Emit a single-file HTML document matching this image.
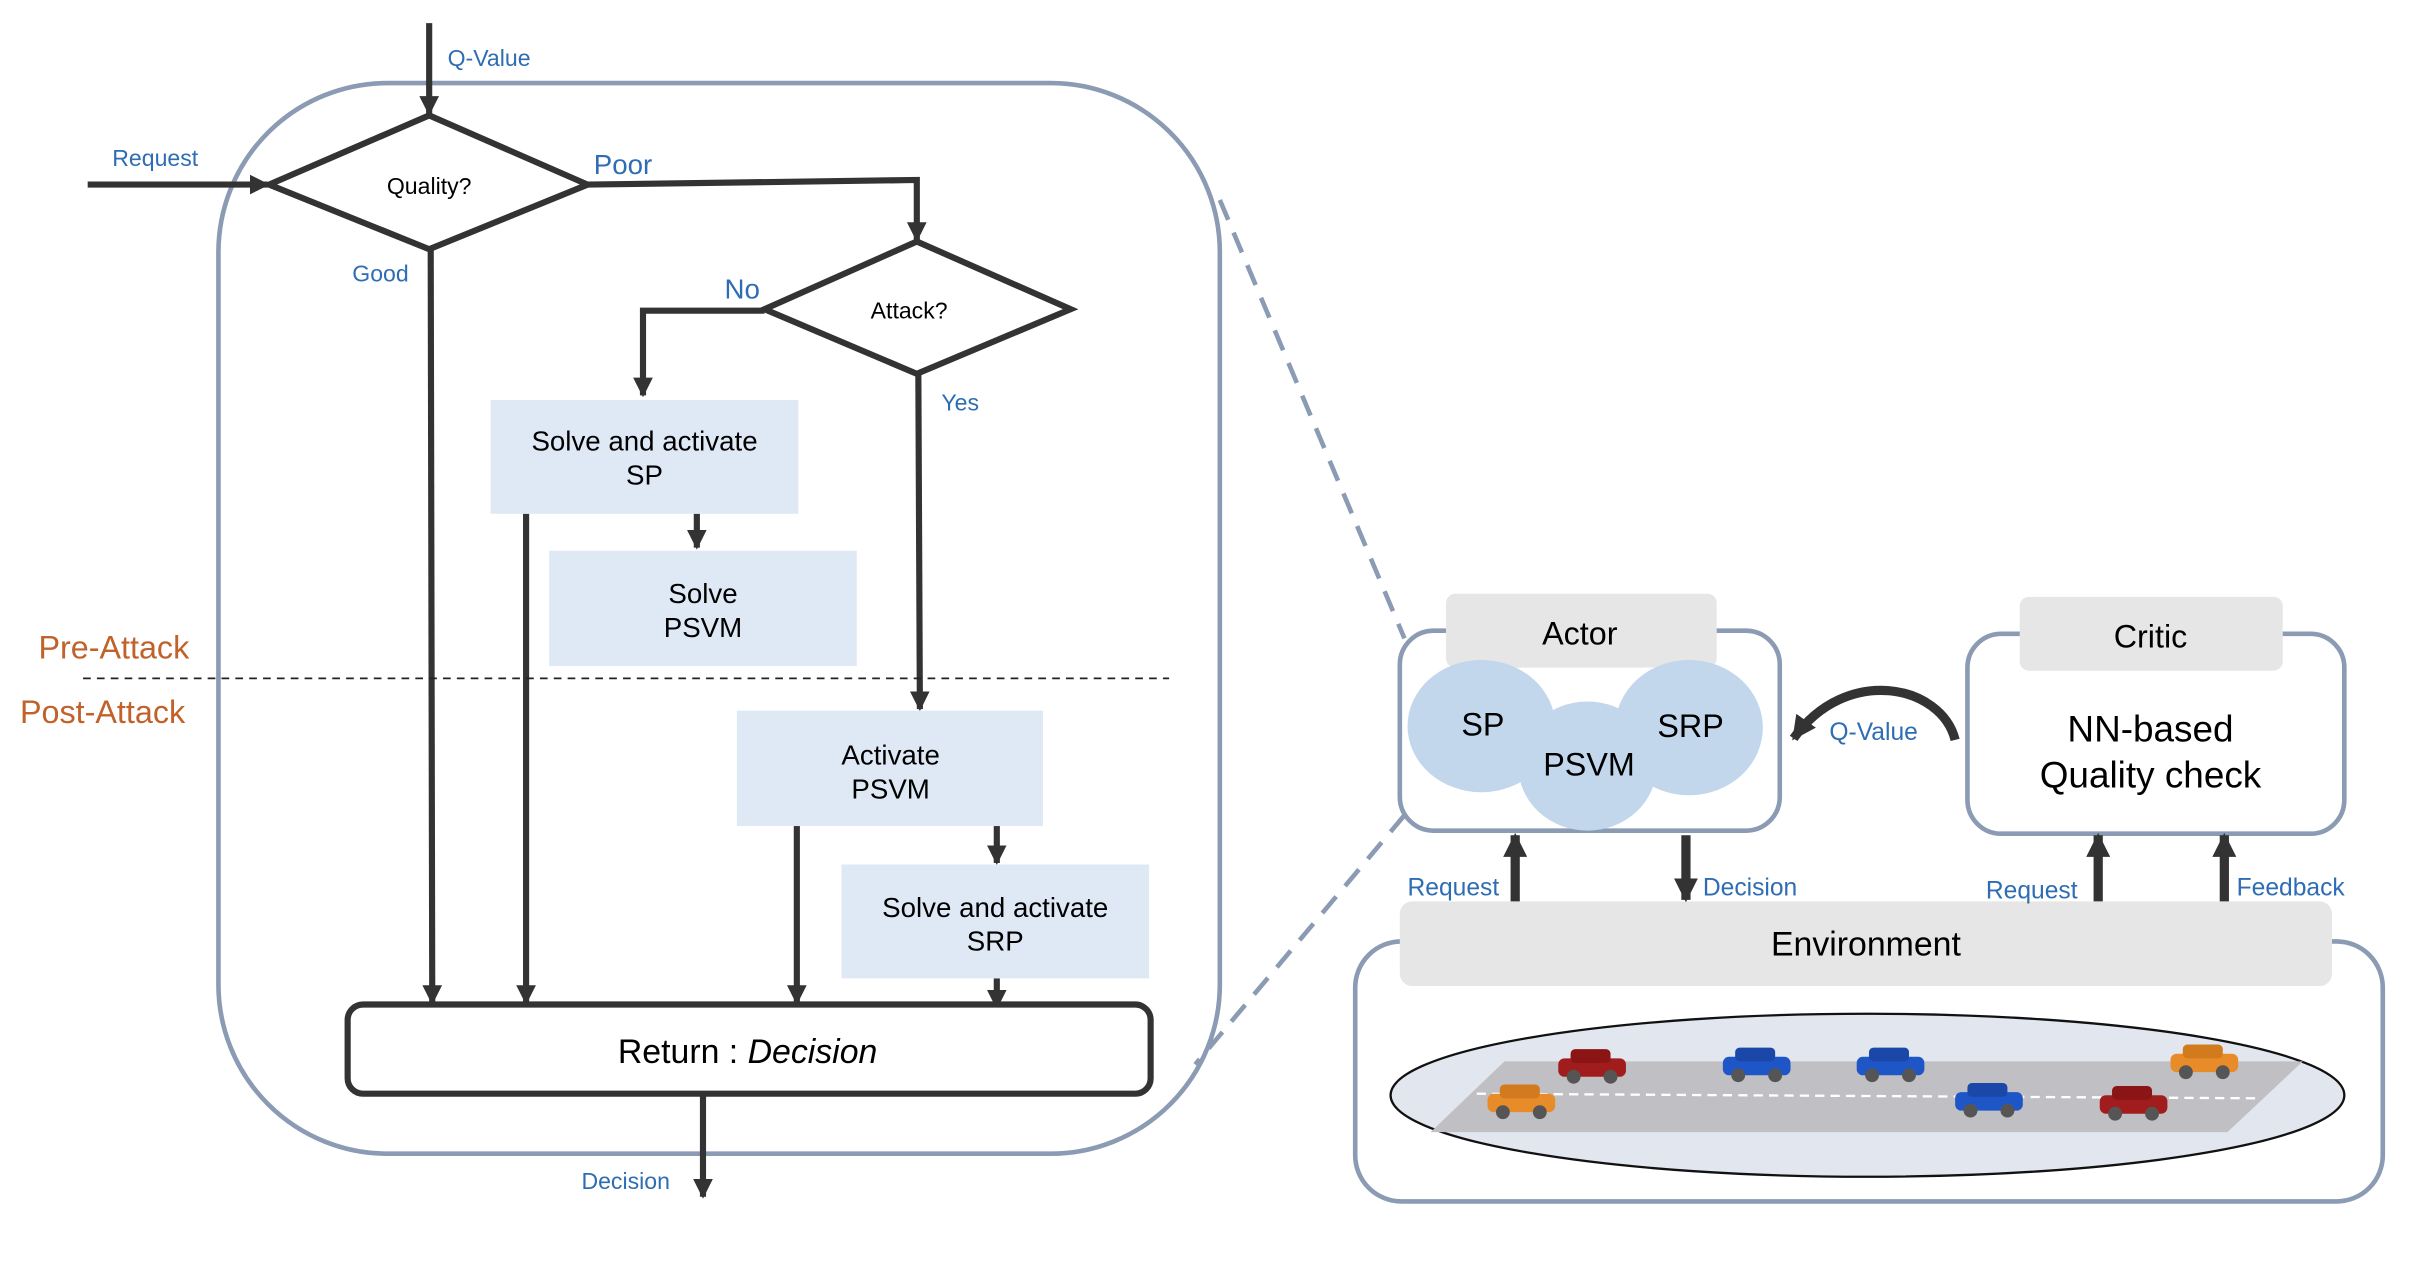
<!DOCTYPE html>
<html><head><meta charset="utf-8"><style>
html,body{margin:0;padding:0;background:#fff;}
svg{display:block;}
text{font-family:"Liberation Sans",sans-serif;}
.n{font-family:"Liberation Sans Narrow","Liberation Sans",sans-serif;}
.b{fill:#2e6db4;}
</style></head><body>
<svg width="2412" height="1264" viewBox="0 0 1568 821.7" preserveAspectRatio="none" xmlns="http://www.w3.org/2000/svg">
<defs>
<marker id="a" viewBox="0 0 10 10" refX="9" refY="5" markerWidth="3.2" markerHeight="3.2" orient="auto"><path d="M0,0L10,5L0,10z" fill="#333"/></marker>
<marker id="a2" viewBox="0 0 10 10" refX="9" refY="5" markerWidth="2.6" markerHeight="2.6" orient="auto"><path d="M0,0L10,5L0,10z" fill="#333"/></marker>
</defs>
<rect x="142" y="54" width="651" height="696" rx="110" fill="none" stroke="#8a9bb3" stroke-width="3"/>
<line x1="793" y1="130" x2="913" y2="415" stroke="#8a9bb3" stroke-width="3" stroke-dasharray="14,9"/>
<line x1="913" y1="530" x2="777" y2="692" stroke="#8a9bb3" stroke-width="3" stroke-dasharray="14,9"/>
<g stroke="#333" stroke-width="4" fill="none">
<line x1="279" y1="15" x2="279" y2="74" marker-end="url(#a)"/>
<line x1="57" y1="120" x2="174" y2="120" marker-end="url(#a)"/>
<polyline points="382,120 596,117 596,156" marker-end="url(#a)"/>
<polyline points="497,202 418,202 418,257" marker-end="url(#a)"/>
<line x1="597" y1="243" x2="598" y2="461" marker-end="url(#a)"/>
<line x1="280" y1="162" x2="281" y2="652" marker-end="url(#a)"/>
<line x1="342" y1="334" x2="342" y2="652" marker-end="url(#a)"/>
<line x1="453" y1="334" x2="453" y2="356" marker-end="url(#a)"/>
<line x1="518" y1="537" x2="518" y2="652" marker-end="url(#a)"/>
<line x1="648" y1="537" x2="648" y2="561" marker-end="url(#a)"/>
<line x1="648" y1="636" x2="648" y2="655" marker-end="url(#a)"/>
<line x1="457" y1="711" x2="457" y2="778" marker-end="url(#a)"/>
<polygon points="175,120 279,75 382,120 279,162" fill="#fff"/>
<polygon points="497,201 596,157 696,201 596,243" fill="#fff"/>
</g>
<text x="279" y="126" font-size="15" text-anchor="middle">Quality?</text>
<text x="591" y="207" font-size="15" text-anchor="middle">Attack?</text>
<g class="b">
<text x="291" y="43" font-size="15">Q-Value</text>
<text x="73" y="108" font-size="15">Request</text>
<text x="386" y="113" font-size="18">Poor</text>
<text x="471" y="194" font-size="18">No</text>
<text x="612" y="267" font-size="15">Yes</text>
<text x="229" y="183" font-size="15">Good</text>
<text x="378" y="773" font-size="15">Decision</text>
</g>
<g fill="#dfe9f5">
<rect x="319" y="260" width="200" height="74"/>
<rect x="357" y="358" width="200" height="75"/>
<rect x="479" y="462" width="199" height="75"/>
<rect x="547" y="562" width="200" height="74"/>
</g>
<g font-size="18" text-anchor="middle">
<text x="419" y="293">Solve and activate</text><text x="419" y="315">SP</text>
<text x="457" y="392">Solve</text><text x="457" y="414">PSVM</text>
<text x="579" y="497">Activate</text><text x="579" y="519">PSVM</text>
<text x="647" y="596">Solve and activate</text><text x="647" y="618">SRP</text>
</g>
<line x1="54" y1="441" x2="760" y2="441" stroke="#222" stroke-width="1.2" stroke-dasharray="5,4"/>
<text x="25" y="428" font-size="21" fill="#c0622a">Pre-Attack</text>
<text x="13" y="470" font-size="21" fill="#c0622a">Post-Attack</text>
<rect x="226" y="653" width="522" height="58" rx="10" fill="#fff" stroke="#333" stroke-width="4"/>
<text x="486" y="691" font-size="22" text-anchor="middle" font-family="DejaVu Sans, sans-serif">Return : <tspan font-style="italic">Decision</tspan></text>

<rect x="910" y="410" width="247" height="130" rx="22" fill="#fff" stroke="#8a9bb3" stroke-width="3"/>
<rect x="940" y="386" width="176" height="48" rx="6" fill="#e6e6e6"/>
<text class="n" x="1027" y="419" font-size="21" text-anchor="middle">Actor</text>
<g fill="#c2d7ec">
<ellipse cx="963" cy="472" rx="48" ry="43"/>
<ellipse cx="1098" cy="473" rx="48" ry="44"/>
<ellipse cx="1032" cy="498" rx="45" ry="42"/>
</g>
<g class="n" font-size="21" text-anchor="middle">
<text x="964" y="478">SP</text><text x="1099" y="479">SRP</text><text x="1033" y="504">PSVM</text>
</g>
<rect x="1279" y="412" width="245" height="130" rx="22" fill="#fff" stroke="#8a9bb3" stroke-width="3"/>
<rect x="1313" y="388" width="171" height="48" rx="6" fill="#e6e6e6"/>
<text class="n" x="1398" y="421" font-size="21" text-anchor="middle">Critic</text>
<text class="n" x="1398" y="482" font-size="24" text-anchor="middle">NN-based</text>
<text class="n" x="1398" y="512" font-size="24" text-anchor="middle">Quality check</text>
<path d="M1271,481 C1262,445 1200,432 1166,480" fill="none" stroke="#333" stroke-width="6" marker-end="url(#a2)"/>
<text class="n b" x="1218" y="481" font-size="16" text-anchor="middle">Q-Value</text>

<rect x="881" y="612" width="668" height="169" rx="30" fill="#fff" stroke="#8a9bb3" stroke-width="3"/>
<rect x="910" y="586" width="606" height="55" rx="8" fill="#e6e6e6"/>
<text class="n" x="1213" y="621" font-size="22" text-anchor="middle">Environment</text>
<g stroke="#333" stroke-width="6">
<line x1="985" y1="586" x2="985" y2="543" marker-end="url(#a2)"/>
<line x1="1096" y1="543" x2="1096" y2="585" marker-end="url(#a2)"/>
<line x1="1364" y1="586" x2="1364" y2="543" marker-end="url(#a2)"/>
<line x1="1446" y1="586" x2="1446" y2="543" marker-end="url(#a2)"/>
</g>
<g class="n b" font-size="16">
<text x="915" y="582">Request</text>
<text x="1107" y="582">Decision</text>
<text x="1291" y="584">Request</text>
<text x="1454" y="582">Feedback</text>
</g>
<ellipse cx="1214" cy="712" rx="310" ry="53" fill="#e1e6ef" stroke="#111" stroke-width="1.5"/>
<polygon points="930,736 978,690 1497,690 1448,736" fill="#c0c0c4"/>
<line x1="960" y1="711" x2="1470" y2="714" stroke="#fff" stroke-width="1.5" stroke-dasharray="6,4"/>
<g>
<g transform="translate(1035,694)"><rect x="-22" y="-6" width="44" height="12" rx="4" fill="#a11d1d"/><rect x="-14" y="-12" width="26" height="9" rx="3" fill="#8b1515"/><circle cx="-12" cy="6" r="4.5" fill="#555"/><circle cx="12" cy="6" r="4.5" fill="#555"/></g>
<g transform="translate(1142,693)"><rect x="-22" y="-6" width="44" height="12" rx="4" fill="#1e56c8"/><rect x="-14" y="-12" width="26" height="9" rx="3" fill="#1a47a8"/><circle cx="-12" cy="6" r="4.5" fill="#555"/><circle cx="12" cy="6" r="4.5" fill="#555"/></g>
<g transform="translate(1229,693)"><rect x="-22" y="-6" width="44" height="12" rx="4" fill="#1e56c8"/><rect x="-14" y="-12" width="26" height="9" rx="3" fill="#1a47a8"/><circle cx="-12" cy="6" r="4.5" fill="#555"/><circle cx="12" cy="6" r="4.5" fill="#555"/></g>
<g transform="translate(1433,691)"><rect x="-22" y="-6" width="44" height="12" rx="4" fill="#e88c2a"/><rect x="-14" y="-12" width="26" height="9" rx="3" fill="#d27a1e"/><circle cx="-12" cy="6" r="4.5" fill="#555"/><circle cx="12" cy="6" r="4.5" fill="#555"/></g>
<g transform="translate(989,717)"><rect x="-22" y="-6" width="44" height="12" rx="4" fill="#e88c2a"/><rect x="-14" y="-12" width="26" height="9" rx="3" fill="#d27a1e"/><circle cx="-12" cy="6" r="4.5" fill="#555"/><circle cx="12" cy="6" r="4.5" fill="#555"/></g>
<g transform="translate(1293,716)"><rect x="-22" y="-6" width="44" height="12" rx="4" fill="#1e56c8"/><rect x="-14" y="-12" width="26" height="9" rx="3" fill="#1a47a8"/><circle cx="-12" cy="6" r="4.5" fill="#555"/><circle cx="12" cy="6" r="4.5" fill="#555"/></g>
<g transform="translate(1387,718)"><rect x="-22" y="-6" width="44" height="12" rx="4" fill="#a11d1d"/><rect x="-14" y="-12" width="26" height="9" rx="3" fill="#8b1515"/><circle cx="-12" cy="6" r="4.5" fill="#555"/><circle cx="12" cy="6" r="4.5" fill="#555"/></g>
</g>
</svg>
</body></html>
